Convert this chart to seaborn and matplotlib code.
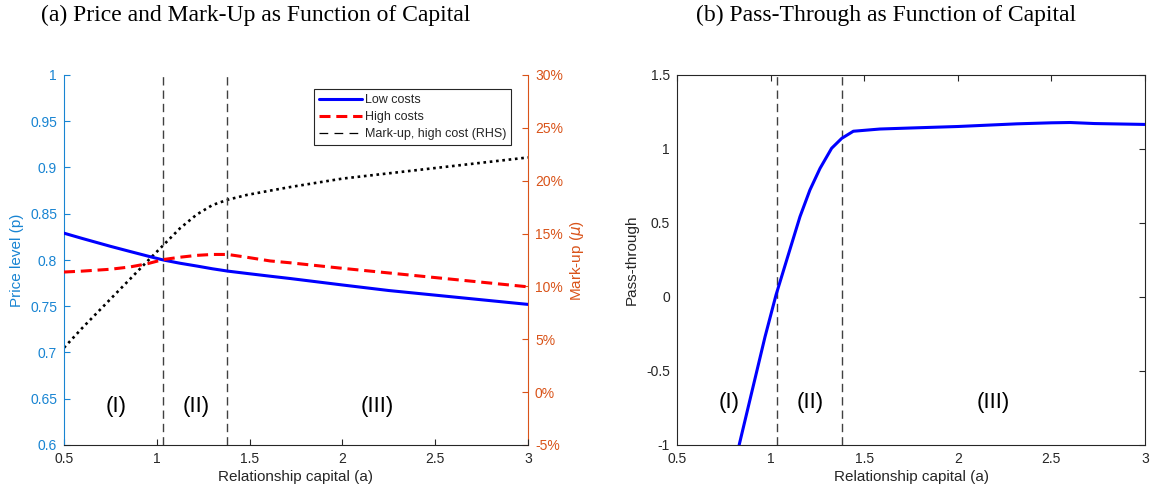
import numpy as np
import pandas as pd
import matplotlib
matplotlib.use("Agg")
import matplotlib.pyplot as plt
from matplotlib.lines import Line2D
from matplotlib.ticker import FuncFormatter, MultipleLocator
import seaborn as sns

sns.set_style("white")
plt.rcParams['font.family'] = ['Liberation Sans', 'DejaVu Sans']

# ---------------- data ----------------
capital_left = [0.5, 0.6, 0.75, 0.856, 0.95, 1.035, 1.125, 1.215, 1.30, 1.382, 1.484,
                1.61, 1.718, 2.0, 2.25, 2.5, 2.75, 3.0]
price_low = [0.829, 0.8232, 0.8148, 0.8092, 0.8043, 0.800, 0.7965, 0.7935, 0.7905, 0.788,
             0.7855, 0.7825, 0.780, 0.773, 0.767, 0.762, 0.757, 0.752]
price_high = [0.787, 0.788, 0.790, 0.7925, 0.796, 0.8005, 0.803, 0.805, 0.806, 0.806, 0.803,
              0.799, 0.797, 0.791, 0.786, 0.781, 0.776, 0.771]
markup_high_pct = [4.2, 6.1, 8.8, 10.7, 12.4, 13.9, 15.5, 16.8, 17.7, 18.2, 18.65,
                   19.06, 19.4, 20.2, 20.7, 21.2, 21.7, 22.2]

capital_right = [0.832, 0.90, 0.97, 1.029, 1.086, 1.157, 1.21, 1.264, 1.326, 1.38, 1.442,
                 1.584, 1.75, 2.0, 2.315, 2.5, 2.6, 2.73, 3.0]
pass_through = [-1.0, -0.64, -0.27, 0.014, 0.25, 0.543, 0.723, 0.869, 1.005, 1.072, 1.12,
                1.135, 1.142, 1.152, 1.170, 1.177, 1.179, 1.172, 1.166]

thresholds = [1.033, 1.38]
region_labels = ["(I)", "(II)", "(III)"]
region_x = [0.78, 1.21, 2.19]

legend_labels = ["Low costs", "High costs", "Mark-up, high cost (RHS)"]
titles = ["(a) Price and Mark-Up as Function of Capital",
          "(b) Pass-Through as Function of Capital"]

# ---------------- style ----------------
BLUE_AX = '#1884d2'
ORANGE = '#D95319'
DARK = '#262626'
GRID_DASH = '#404040'
TICK_FS = 10
LAB_FS = 11

fig = plt.figure(figsize=(11.54, 4.97), dpi=100)
axL = fig.add_axes([64/1154, 52/497, 464/1154, 370/497])
axR2 = axL.twinx()
axP = fig.add_axes([677/1154, 52/497, 468/1154, 370/497])

dfL = pd.DataFrame({"a": capital_left, "low": price_low, "high": price_high,
                    "mu": markup_high_pct})
dfP = pd.DataFrame({"a": capital_right, "pt": pass_through})

# ---- left panel ----
sns.lineplot(data=dfL, x="a", y="low", ax=axL, color='#0000FF', lw=2.2, zorder=3)
sns.lineplot(data=dfL, x="a", y="high", ax=axL, color='#FF0000', lw=2.2, zorder=3)
axL.lines[-1].set_dashes((3.6, 1.9))
sns.lineplot(data=dfL, x="a", y="mu", ax=axR2, color='black', lw=1.9, zorder=3)
axR2.lines[-1].set_linestyle((0, (1, 1.4)))

for t in thresholds:
    axL.axvline(t, color=GRID_DASH, lw=1.0, dashes=(6, 3.6), zorder=2)

axL.set_xlim(0.5, 3)
axL.set_ylim(0.6, 1.0)
axR2.set_ylim(-5, 30)
axL.xaxis.set_major_locator(MultipleLocator(0.5))
axL.yaxis.set_major_locator(MultipleLocator(0.05))
axR2.yaxis.set_major_locator(MultipleLocator(5))
fmt_g = FuncFormatter(lambda v, p: f"{round(v, 2):g}")
axL.xaxis.set_major_formatter(fmt_g)
axL.yaxis.set_major_formatter(fmt_g)
axR2.yaxis.set_major_formatter(FuncFormatter(lambda v, p: f"{v:.0f}%"))

axL.set_xlabel("Relationship capital (a)", fontsize=LAB_FS, color=DARK, labelpad=3)
axL.set_ylabel("Price level (p)", fontsize=LAB_FS, color=BLUE_AX, labelpad=4)
axR2.set_ylabel("Mark-up ($\\mu$)", fontsize=LAB_FS, color=ORANGE, labelpad=4)

axL.spines['top'].set_visible(False)
axR2.spines['top'].set_visible(False)
axL.spines['left'].set_color(BLUE_AX)
axR2.spines['left'].set_visible(False)
axL.spines['right'].set_visible(False)
axR2.spines['right'].set_color(ORANGE)
axL.spines['bottom'].set_color(DARK)
axR2.spines['bottom'].set_visible(False)
for sp in axL.spines.values():
    sp.set_linewidth(0.8)
axR2.spines['right'].set_linewidth(0.8)

axL.tick_params(axis='x', direction='in', length=4, width=0.8, colors=DARK,
                labelsize=TICK_FS, pad=5, bottom=True, top=False)
axL.tick_params(axis='y', direction='in', length=4, width=0.8, colors=BLUE_AX,
                labelsize=TICK_FS, pad=5, left=True)
axR2.tick_params(axis='y', direction='in', length=4, width=0.8, colors=ORANGE,
                 labelsize=TICK_FS, pad=5, right=True)

for lab, xx in zip(region_labels, region_x):
    axL.text(xx, 0.642, lab, fontsize=16, ha='center', va='center', color='black')

handles = [Line2D([], [], color='#0000FF', lw=2.2),
           Line2D([], [], color='#FF0000', lw=2.2, dashes=(3.6, 1.9)),
           Line2D([], [], color='black', lw=0.9, dashes=(7, 5))]
leg = axL.legend(handles, legend_labels, loc='upper left',
                 bbox_to_anchor=(0.539, 0.962), borderaxespad=0, fontsize=9,
                 frameon=True, fancybox=False, framealpha=1, edgecolor=DARK,
                 handlelength=3.4, handletextpad=0.25, labelspacing=0.4,
                 borderpad=0.4)
leg.get_frame().set_linewidth(0.8)
axL.set_zorder(axR2.get_zorder() + 1)
axL.patch.set_visible(False)

# ---- right panel ----
sns.lineplot(data=dfP, x="a", y="pt", ax=axP, color='#0000FF', lw=2.2, zorder=3)
for t in thresholds:
    axP.axvline(t, color=GRID_DASH, lw=1.0, dashes=(6, 3.6), zorder=2)
axP.set_xlim(0.5, 3)
axP.set_ylim(-1, 1.5)
axP.xaxis.set_major_locator(MultipleLocator(0.5))
axP.yaxis.set_major_locator(MultipleLocator(0.5))
axP.xaxis.set_major_formatter(fmt_g)
axP.yaxis.set_major_formatter(fmt_g)
axP.set_xlabel("Relationship capital (a)", fontsize=LAB_FS, color=DARK, labelpad=3)
axP.set_ylabel("Pass-through", fontsize=LAB_FS, color=DARK, labelpad=5)
for sp in axP.spines.values():
    sp.set_color(DARK)
    sp.set_linewidth(0.8)
axP.tick_params(axis='both', direction='in', length=4, width=0.8, colors=DARK,
                labelsize=TICK_FS, top=True, right=True, labeltop=False,
                labelright=False, pad=5)
for lab, xx in zip(region_labels, region_x):
    axP.text(xx, -0.715, lab, fontsize=16, ha='center', va='center', color='black')

# ---- titles ----
fig.text(256/1154, 1 - 15/497, titles[0], ha='center', va='center',
         fontsize=17, family=['Liberation Serif', 'DejaVu Serif'], color='black')
fig.text(886/1154, 1 - 15/497, titles[1], ha='center', va='center',
         fontsize=17, family=['Liberation Serif', 'DejaVu Serif'], color='black')

fig.savefig("out.png", dpi=100)
